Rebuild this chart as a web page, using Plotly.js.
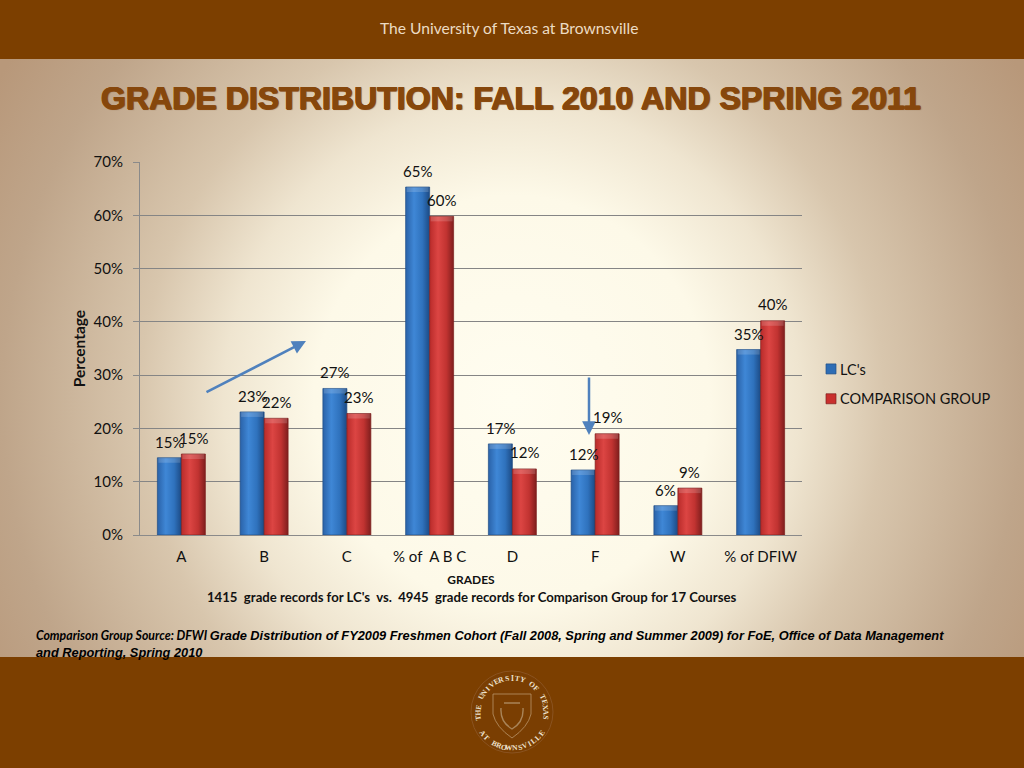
<!DOCTYPE html>
<html><head><meta charset="utf-8">
<script src="https://cdn.plot.ly/plotly-3.0.1.min.js"></script>
<style>
html,body{margin:0;padding:0;width:1024px;height:768px;overflow:hidden}
#bg{position:absolute;left:0;top:0;width:1024px;height:768px;
background:radial-gradient(ellipse 600px 620px at 512px 400px,#fffdf0 0%,#fdf9e8 33%,#efe5d0 48%,#d8c6ad 62%,#bfa58a 85%,#b8987a 100%)}
#chart{position:absolute;left:0;top:0;width:1024px;height:768px}
</style></head><body>
<div id="bg"></div><div id="chart"></div>
<script>
const categories=['A','B','C','% of  A B C','D','F','W','% of DFIW'];
const lcValues=[14.5,23.1,27.5,65.3,17.1,12.2,5.5,34.8];
const compValues=[15.2,21.9,22.8,59.8,12.4,19.0,8.8,40.2];
const lcLabels=['15%','23%','27%','65%','17%','12%','6%','35%'];
const compLabels=['15%','22%','23%','60%','12%','19%','9%','40%'];
const yTicks=[0,10,20,30,40,50,60,70];
const BAND='#7c3f00';
const W=1024,H=768;
const L=140,R=802,T=162,B=535;
const px=x=>(x-L)/(R-L), py=y=>(B-y)/(B-T);

const sealTop='THE UNIVERSITY OF TEXAS';
const sealBottom='AT BROWNSVILLE';
const sealCx=512,sealCy=712;
const labelFont={family:'Lato',size:15,color:'#111'};
const mid={xanchor:'center',yanchor:'middle'};
const annotations=[
 {...mid,xref:'paper',yref:'paper',x:px(509),y:py(28),text:'The University of Texas at Brownsville',showarrow:false,font:{family:'Lato',size:15.6,color:'#ecdcc4'}},
 {...mid,xref:'paper',yref:'paper',x:px(471),y:py(597),text:"<b>1415  grade records for LC's  vs.  4945  grade records for Comparison Group for 17 Courses</b>",showarrow:false,font:{family:'Lato',size:13.15,color:'#111'}},
 {xref:'paper',yref:'paper',x:px(34),y:py(643.5),xanchor:'left',align:'left',yanchor:'middle',showarrow:false,
  text:"<b><i><span style=\"font-family:Lato;font-size:12.3px\">Comparison Group Source: DFWI </span>Grade Distribution of FY2009 Freshmen Cohort (Fall 2008, Spring and Summer 2009) for FoE, Office of Data Management<br>and Reporting, Spring 2010</i></b>",
  font:{family:'Liberation Sans',size:12.8,color:'#000'}},
 {xref:'paper',yref:'paper',axref:'paper',ayref:'paper',x:px(306),y:py(341),ax:px(205),ay:py(393),text:'',showarrow:true,arrowhead:2,arrowsize:1.1,arrowwidth:2.5,arrowcolor:'#4f81bd'},
 {xref:'paper',yref:'paper',axref:'paper',ayref:'paper',x:px(589),y:py(435),ax:px(589),ay:py(376),text:'',showarrow:true,arrowhead:2,arrowsize:1.1,arrowwidth:2.5,arrowcolor:'#4f81bd'}
];
categories.forEach((c,i)=>{
 annotations.push({xref:'x',yref:'y',x:c,y:lcValues[i],xshift:-12,yshift:16,text:lcLabels[i],showarrow:false,font:labelFont});
 annotations.push({xref:'x',yref:'y',x:c,y:compValues[i],xshift:12,yshift:16.5,text:compLabels[i],showarrow:false,font:labelFont});
});
function sealText(str,start,end,flip,r){
 [...str].forEach((ch,i)=>{
  const a=start+(end-start)*i/(str.length-1);
  const rad=a*Math.PI/180;
  annotations.push({...mid,xref:'paper',yref:'paper',x:px(sealCx+r*Math.sin(rad)),y:py(sealCy-r*Math.cos(rad)),
   text:'<b>'+ch+'</b>',showarrow:false,textangle:flip?a-180:a,font:{family:'Liberation Serif',size:7.5,color:'#efe3cf'}});
 });
}
sealText(sealTop,-100,100,false,34);
sealText(sealBottom,234,126,true,36);

const shapes=[
 {type:'rect',xref:'paper',yref:'paper',x0:px(0),x1:px(W),y0:py(59),y1:py(0),fillcolor:BAND,line:{width:0},layer:'below'},
 {type:'rect',xref:'paper',yref:'paper',x0:px(0),x1:px(W),y0:py(H),y1:py(657),fillcolor:BAND,line:{width:0},layer:'below'},
 {type:'circle',xref:'paper',yref:'paper',x0:px(sealCx-41),x1:px(sealCx+41),y0:py(sealCy+41),y1:py(sealCy-41),line:{color:'#8a5320',width:1},fillcolor:'#7a3e02',layer:'below'},
 {type:'path',xref:'paper',yref:'paper',layer:'below',line:{color:'#b9946a',width:0.8},
  path:`M ${px(493)} ${py(694)} L ${px(531)} ${py(694)} L ${px(531)} ${py(714)} Q ${px(528)} ${py(727)} ${px(512)} ${py(738)} Q ${px(496)} ${py(727)} ${px(493)} ${py(714)} Z`},
 {type:'path',xref:'paper',yref:'paper',layer:'below',line:{color:'#a98458',width:1.4},
  path:`M ${px(504)} ${py(703)} L ${px(520)} ${py(703)} M ${px(501)} ${py(708)} Q ${px(500)} ${py(722)} ${px(512)} ${py(729)} Q ${px(524)} ${py(722)} ${px(523)} ${py(708)}`}
];

const data=[
 {type:'bar',name:"LC's",legendgroup:'a',x:categories,y:lcValues,marker:{color:'#2e6db5',line:{color:'#1f4e85',width:0.7}},hoverinfo:'skip'},
 {type:'bar',name:'COMPARISON GROUP',legendgroup:'b',x:categories,y:compValues,marker:{color:'#c9302e',line:{color:'#7d1f1e',width:0.7}},hoverinfo:'skip'}
];
const titleEdge='#8a4a10';
const layout={
 width:W,height:H,paper_bgcolor:'rgba(0,0,0,0)',plot_bgcolor:'rgba(0,0,0,0)',showlegend:true,
 margin:{l:L,r:W-R,t:T,b:H-B,autoexpand:false},
 barmode:'group',bargap:0.42,bargroupgap:0,
 title:{text:'<b>GRADE DISTRIBUTION: FALL 2010 AND SPRING 2011</b>',x:511/W,xanchor:'center',y:1-98/H,yanchor:'middle',
  font:{family:'Liberation Sans',size:32.1,color:'#86470c',shadow:`0.7px 0 ${titleEdge},-0.7px 0 ${titleEdge},0 0.7px ${titleEdge},0 -0.7px ${titleEdge},1px 1px 1px rgba(90,50,10,0.5)`}},
 font:{family:'Lato',size:15,color:'#111'},
 xaxis:{type:'category',automargin:false,showline:true,linecolor:'#8a8a8a',linewidth:1,ticks:'',ticklabelstandoff:8,tickfont:{family:'Lato',size:15,color:'#111'},
  title:{text:'<b>GRADES</b>',standoff:11,font:{family:'Lato',size:12,color:'#111'}}},
 yaxis:{range:[0,70],tickvals:yTicks,ticktext:yTicks.map(v=>v+'%'),automargin:false,showline:true,linecolor:'#8a8a8a',linewidth:1,
  gridcolor:'#858585',gridwidth:1,ticks:'outside',ticklen:6,tickcolor:'#8a8a8a',ticklabelstandoff:7,tickfont:{family:'Lato',size:15,color:'#111'},zeroline:false,
  title:{text:'<b>Percentage</b>',standoff:4,font:{family:'Lato',size:15.5,color:'#111'}}},
 legend:{x:px(811),xanchor:'left',y:py(353),yanchor:'top',traceorder:'grouped',bgcolor:'rgba(0,0,0,0)',font:{family:'Lato',size:14.5,color:'#111'},itemwidth:30,tracegroupgap:8},
 annotations,shapes
};
Plotly.newPlot('chart',data,layout,{displayModeBar:false,responsive:false}).then(gd=>{
 const svg=gd.querySelector('svg.main-svg');
 const NS='http://www.w3.org/2000/svg';
 const defs=document.createElementNS(NS,'defs');
 const mk=(id,stops)=>{const g=document.createElementNS(NS,'linearGradient');g.setAttribute('id',id);
  stops.forEach(([o,c])=>{const s=document.createElementNS(NS,'stop');s.setAttribute('offset',o);s.setAttribute('stop-color',c);g.appendChild(s);});defs.appendChild(g);};
 mk('gb',[[0,'#2a62a8'],[0.35,'#3f87d6'],[0.7,'#2f72bd'],[1,'#1c4a84']]);
 mk('gr',[[0,'#b92b2a'],[0.35,'#dc4543'],[0.7,'#c13331'],[1,'#7f1e1d']]);
 svg.appendChild(defs);
 gd.querySelectorAll('.barlayer .trace').forEach((t,i)=>{
  t.querySelectorAll('.point path').forEach(p=>{
   p.style.fill=`url(#${i?'gr':'gb'})`;
   const b=p.getBBox();
   const cap=document.createElementNS(NS,'rect');
   cap.setAttribute('x',b.x+1);cap.setAttribute('y',b.y);cap.setAttribute('width',Math.max(b.width-2,0));cap.setAttribute('height',5);
   cap.setAttribute('fill','rgba(255,255,255,0.16)');
   p.parentNode.appendChild(cap);
  });
 });
 gd.querySelectorAll('.legendtext').forEach(t=>{t.setAttribute('x',String(parseFloat(t.getAttribute('x'))-11));});
 gd.querySelectorAll('.legendpoints path').forEach(p=>{p.setAttribute('d','M5,5H-5V-5H5Z');});
});
</script></body></html>
